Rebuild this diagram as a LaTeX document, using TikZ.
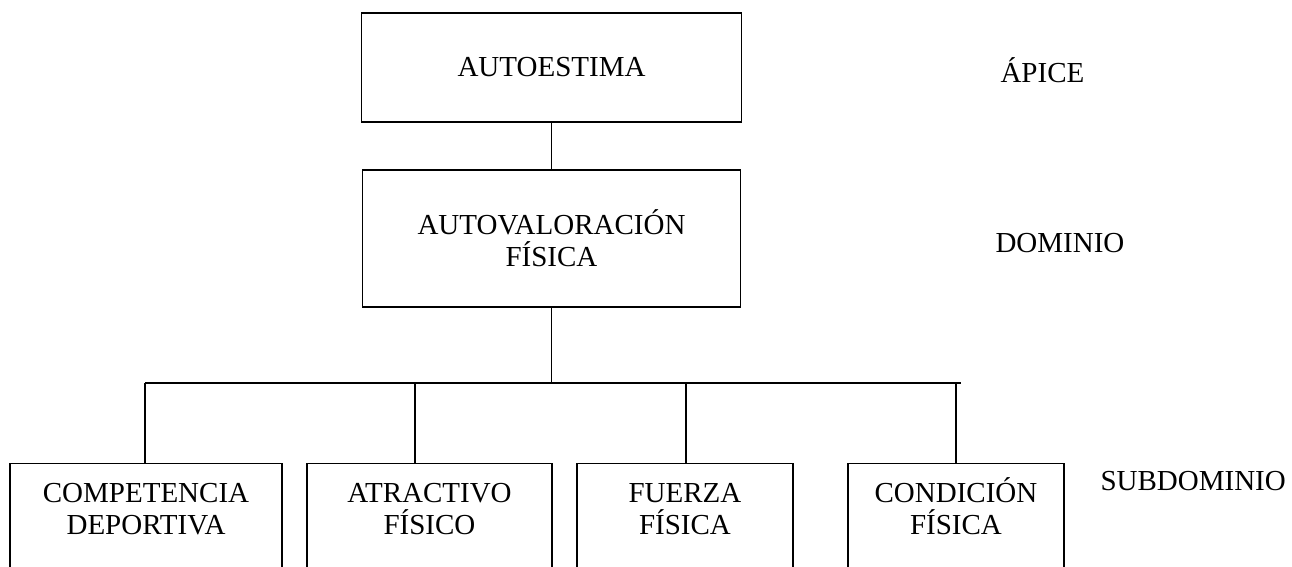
\documentclass[tikz,border=0pt]{standalone}
\usepackage{fontspec}
\setmainfont{Liberation Serif}
\usetikzlibrary{positioning}
\newcommand{\cajafont}{\fontsize{21.75}{24}\selectfont}

\begin{document}
\begin{tikzpicture}[x=0.75pt,y=-0.75pt,line width=0.8pt,
    caja/.style={draw,rectangle,align=center,font=\cajafont},
    hoja/.style={draw,rectangle,anchor=north,minimum height=97.5pt},
    texto/.style={align=center,anchor=north,inner sep=0pt,font=\cajafont},
    nivel/.style={anchor=base west,inner sep=0pt,font=\cajafont}]
    \useasboundingbox (0,0) rectangle (1292,567);
    \clip (0,0) rectangle (1292,567);

    \node[caja,minimum width=285pt,minimum height=81.75pt] (A) at (551.5,67.5) {AUTOESTIMA};
    \node[caja,minimum width=283.5pt,minimum height=102.75pt] (B) at (551.5,238.5) {AUTOVALORACIÓN\\FÍSICA};

    \node[hoja,minimum width=204pt,label={[texto]north:\rule{0pt}{29pt}COMPETENCIA\\DEPORTIVA}] (C) at (146,463) {};
    \node[hoja,minimum width=183.75pt,label={[texto]north:\rule{0pt}{29pt}ATRACTIVO\\FÍSICO}] (D) at (429.5,463) {};
    \node[hoja,minimum width=162pt,label={[texto]north:\rule{0pt}{29pt}FUERZA\\FÍSICA}] (E) at (685,463) {};
    \node[hoja,minimum width=162pt,label={[texto]north:\rule{0pt}{29pt}CONDICIÓN\\FÍSICA}] (F) at (956,463) {};

    % niveles
    \node[nivel] (L1) at (1000,83) {ÁPICE};
    \node[nivel] (L2) at (995,252) {DOMINIO};
    \node[nivel] (L3) at (1100,490) {SUBDOMINIO};

    % barra
    \coordinate (b1) at (145,383);
    \coordinate (b2) at (415,383);
    \coordinate (b3) at (686,383);
    \coordinate (b4) at (956,383);
    \coordinate (bfin) at (961,383);

    \draw (A.south) -- (B.north);
    \draw (B.south) -- (B.south |- b1);
    \draw (b1) -- (bfin);
    \foreach \i/\n in {1/C,2/D,3/E,4/F}
        \draw (b\i) -- (b\i |- \n.north);
\end{tikzpicture}
\end{document}
